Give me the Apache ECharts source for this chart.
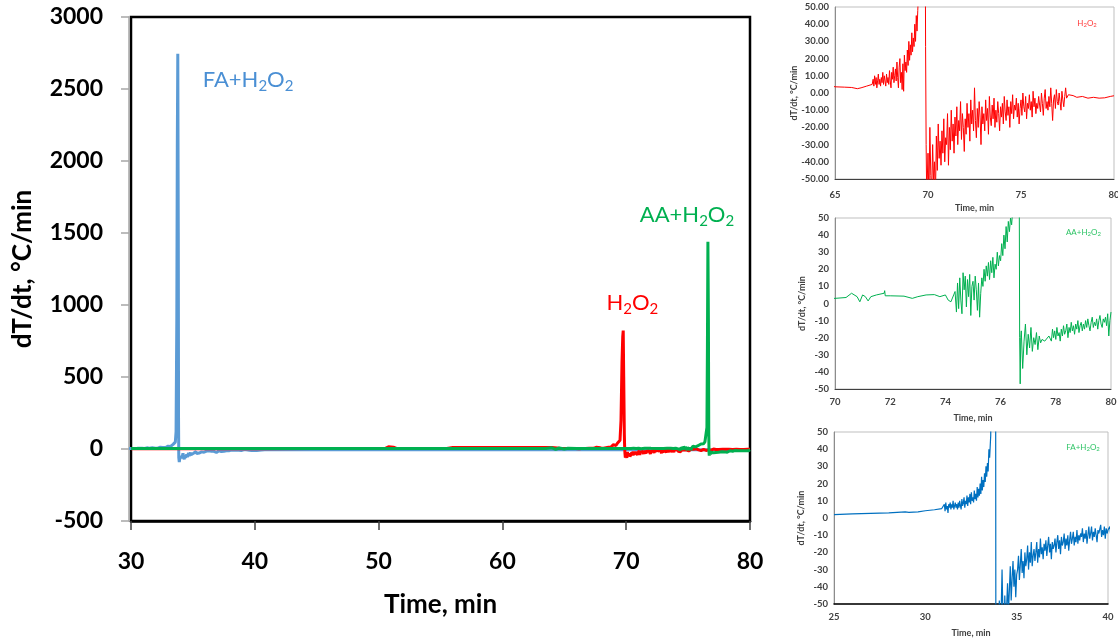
<!DOCTYPE html>
<html><head><meta charset="utf-8">
<script src="https://cdn.jsdelivr.net/npm/echarts@6/dist/echarts.min.js"></script>
<style>html,body{margin:0;padding:0;background:#fff}#c{width:1118px;height:642px}</style>
</head><body><div id="c"></div>
<script>
// ---------- FA + H2O2 (blue) ----------
const faT1 = [25, 26, 27, 28, 28.9, 29.1, 29.6, 30, 30.5, 30.9];
const faV1 = [2.0, 2.4, 2.7, 3.0, 3.6, 3.3, 3.6, 4.2, 4.8, 5.5];
const faRiseStart = 31.0, faRiseStep = 0.04;
const faRise = [6, 8, 4, 9, 5, 7, 3, 8, 6, 9,
  5, 8, 6, 10, 5, 7, 9, 6, 8, 5,
  9, 6, 10, 7, 5, 11, 7, 9, 12, 6,
  10, 8, 13, 7, 12, 9, 14, 8, 15, 10,
  12, 9, 16, 11, 14, 10, 18, 12, 17, 13,
  20, 14, 24, 16, 22, 18, 26, 21, 30, 24,
  32, 27, 40, 35];
const faPeakT = [33.58, 33.64, 33.70, 33.74, 33.78, 33.82, 33.84, 33.86];
const faPeakV = [48, 120, 900, 2100, 2745, 1500, 200, -60];
const faDecayStart = 33.90, faDecayStep = 0.05;
const faDecay = [-90, -62, -70, -48, -66, -55, -30, -58, -72, -45, -60, -52, -38, -55,
  -42, -28, -48, -35, -25, -40, -30, -46, -33,
  -30, -22, -36, -27, -18, -32, -25, -35, -20, -28,
  -24, -16, -30, -20, -26, -14, -28, -22, -18, -25,
  -20, -14, -26, -18, -23, -12, -21, -17, -24, -15,
  -19, -13, -22, -16, -11, -20, -15, -24, -14, -18,
  -16, -12, -20, -14, -10, -18, -13, -21, -11, -16,
  -14, -9, -18, -12, -16, -10, -19, -13, -8, -15,
  -12, -8, -16, -11, -14, -7, -15, -10, -13, -9,
  -11, -6, -14, -9, -12, -7, -15, -10, -5, -12,
  -9, -5, -13, -8, -11, -6, -10, -14, -7, -9,
  -8, -4, -11, -7, -10, -5, -12, -6, -9, -7,
  -8, -5, -10, -6, -9, -4, -8, -11, -6, -7,
  -7, -4, -9, -6, -8, -5, -10, -6, -7, -5,
  -6, -4, -8, -5, -7, -3, -6, -8, -5, -6];
const faTailT = [42, 50, 60, 70, 80];
const faTailV = [-5, -5, -6, -6, -6];

// ---------- H2O2 (red) ----------
const redT1 = [30, 40, 45, 50.5, 50.8, 51.2, 51.5, 55.5, 56, 60, 64, 64.6, 65, 65.5, 65.9, 66.2, 66.4, 66.7, 67.0];
const redV1 = [2, 2, 3, 3, 15, 12, 3, 4, 10, 11, 10, 5, 3.6, 3.4, 3.2, 2.5, 3.0, 4.0, 5.0];
const redRiseStart = 67.05, redRiseStep = 0.04;
const redRise = [8, 4, 10, 5, 9, 3, 7, 11, 5, 8,
  4, 9, 6, 12, 5, 10, 7, 4, 11, 6,
  9, 5, 13, 7, 3, 12, 8, 15, 6, 10,
  14, 7, 18, 9, 3, 15, 20, 6, 12, 2,
  17, 1, 22, 13, 18, 12, 25, 16, 30, 19,
  28, 22, 35, 24, 32, 27, 40, 30, 45, 36,
  48];
const redPeakT = [69.50, 69.58, 69.66, 69.72, 69.76, 69.80, 69.85, 69.87, 69.88, 69.90, 69.93];
const redPeakV = [60, 200, 600, 780, 822, 500, 100, 27, 26, -30, -60];
const redDecayStart = 69.95, redDecayStep = 0.05;
const redDecay = [-55, -35, -62, -20, -48, -58, -30, -52, -40, -60, -25,
  -45, -18, -38, -28, -42, -22, -35, -15, -40, -26,
  -30, -12, -42, -20, -33, -10, -28, -18, -35, -14,
  -25, -8, -30, -16, -22, -5, -27, -12, -20, -34,
  -15, -24, -6, -20, -12, -28, -4, -18, -10, -22,
  3, -16, -26, -9, -20, -5, -14, -30, -8, -18,
  -12, -22, -4, -16, -9, -24, -2, -14, -19, -7,
  -15, -3, -20, -10, -17, -5, -12, -22, -8, -14,
  -6, -18, -2, -11, -16, -4, -13, -8, -20, -5,
  -12, -1, -15, -7, -10, -3, -14, -6, -18, -9,
  -4, -13, 0, -8, -11, -2, -15, -6, -9, -1,
  -10, -5, -14, 1, -8, -3, -12, -6, -9, -2,
  -7, -11, 0, -6, -13, -3, 2, -9, -5, -10,
  -2, -8, 3, -6, -16, -4, -1, -9, 2, -5,
  -7, 0, -5, -10, 1, -4, -8, -2, 3, -3];
const redTailT = [77.55, 77.8, 78.0, 78.3, 78.6, 78.9, 79.2, 79.5, 79.8, 80];
const redTailV = [-1, -1.5, -2.5, -2, -3, -2.5, -3, -2.8, -2, -1.6];

// ---------- AA + H2O2 (green) ----------
const aaT1 = [30, 40, 50, 60, 63.5, 64, 64.3, 64.6, 65, 65.3, 66, 68, 70, 70.4, 70.6, 70.8, 70.9, 71.0, 71.1, 71.2,
  71.3, 71.5, 71.78, 71.8, 71.82, 72.0, 72.5, 72.8, 73.0, 73.3, 73.6, 73.8, 74.0, 74.1, 74.2, 74.3, 74.35];
const aaV1 = [3, 3, 3, 3, 3, 8, -2, 7, 0, 5, 3, 3, 3, 3.5, 6, 4, 1, 5, 4, 1.5,
  4, 5, 6, 7.5, 4.5, 4.5, 4.3, 3, 4, 5, 5.2, 4, 5, 2, 1, 5, 7];
const aaRiseStart = 74.40, aaRiseStep = 0.04;
const aaRise = [-5, 12, -3, 15, 2, -6, 18, 8, 16, -2,
  14, 4, 17, -7, 10, 13, 2, 16, 8, -4,
  12, -8, 6, 15, 10, 20, 13, 22, 16, 24,
  14, 25, 18, 27, 15, 23, 20, 30, 22, 28,
  25, 35, 28, 40, 32, 45, 36, 48, 42, 50,
  46, 55, 60];
const aaPeakT = [76.52, 76.56, 76.60, 76.64, 76.67, 76.69, 76.71, 76.73];
const aaPeakV = [150, 700, 1440, 900, 100, -20, -47, -20];
const aaDropStart = 76.75, aaDropStep = 0.05;
const aaDrop = [-16, -38, -22, -12, -30, -18, -26, -14, -28, -20, -24, -17, -27, -19, -23, -21];
const aaMidT = [77.6, 77.75];
const aaMidV = [-22, -19];
const aaEndStart = 77.80, aaEndStep = 0.04;
const aaEnd = [-18, -22, -15, -20, -16, -21, -14, -19, -17, -22,
  -15, -19, -13, -18, -16, -12, -20, -14, -17, -11,
  -16, -13, -18, -12, -15, -10, -17, -13, -11, -16,
  -12, -15, -10, -14, -9, -13, -16, -11, -8, -14,
  -11, -13, -9, -15, -10, -7, -12, -14, -9, -11,
  -8, -13, -6, -19, -10, -5];

// ---------- helpers ----------
function pairs(t, v) { return t.map((x, i) => [x, v[i]]); }
function sampled(start, step, v) { return v.map((y, i) => [Math.round((start + i * step) * 1000) / 1000, y]); }

const faData = [].concat(pairs(faT1, faV1), sampled(faRiseStart, faRiseStep, faRise),
  pairs(faPeakT, faPeakV), sampled(faDecayStart, faDecayStep, faDecay), pairs(faTailT, faTailV));
const redData = [].concat(pairs(redT1, redV1), sampled(redRiseStart, redRiseStep, redRise),
  pairs(redPeakT, redPeakV), sampled(redDecayStart, redDecayStep, redDecay), pairs(redTailT, redTailV));
const aaData = [].concat(pairs(aaT1, aaV1), sampled(aaRiseStart, aaRiseStep, aaRise),
  pairs(aaPeakT, aaPeakV), sampled(aaDropStart, aaDropStep, aaDrop), pairs(aaMidT, aaMidV),
  sampled(aaEndStart, aaEndStep, aaEnd));

const FONT = 'Lato, "Open Sans", sans-serif';
const mainLabel = { fontSize: 23, fontWeight: 'bold', color: '#000', fontFamily: FONT };
const mainTitle = { fontSize: 26, fontWeight: 'bold', color: '#000', fontFamily: FONT };

function insetX(idx, min, max, interval, margin) {
  return {
    type: 'value', gridIndex: idx, min, max, interval,
    name: 'Time, min', nameLocation: 'middle', nameGap: 25, nameMoveOverlap: false,
    nameTextStyle: { fontSize: 9, fontWeight: 'bold', color: '#404040', fontFamily: FONT },
    axisLine: { show: true, onZero: false, lineStyle: { color: idx === 3 ? '#000' : '#404040', width: idx === 3 ? 1.5 : 1 } },
    axisTick: { show: false },
    axisLabel: { fontSize: 9.5, fontWeight: 'bold', color: '#404040', margin, fontFamily: FONT },
    splitLine: { show: false }
  };
}
function insetY(idx, decimals, nameGap) {
  return {
    type: 'value', gridIndex: idx, min: -50, max: 50, interval: 10,
    name: 'dT/dt, °C/min', nameLocation: 'middle', nameGap, nameMoveOverlap: false,
    nameTextStyle: { fontSize: 9, fontWeight: 'bold', color: '#404040', fontFamily: FONT },
    axisLine: { show: true, lineStyle: { color: '#8c8c8c', width: 1 } },
    axisTick: { show: false },
    axisLabel: { fontSize: 9.5, fontWeight: 'bold', color: '#404040', margin: 6, fontFamily: FONT,
      formatter: v => decimals ? v.toFixed(2) : String(v) },
    splitLine: { show: false }
  };
}
function line(idx, data, color, width, z) {
  return { type: 'line', xAxisIndex: idx, yAxisIndex: idx, data, showSymbol: false, symbol: 'none',
    lineStyle: { color, width }, itemStyle: { color }, clip: true, z: z || 2, animation: false };
}

const W = 1118, H = 642;
function gridBox(l, t, r, b, extra) {
  return Object.assign({ left: l, top: t, right: W - r, bottom: H - b, containLabel: false, outerBoundsMode: 'none' }, extra);
}

const chart = echarts.init(document.getElementById('c'), null, { renderer: 'canvas' });
chart.setOption({
  animation: false,
  backgroundColor: '#fff',
  grid: [
    gridBox(131, 17, 750, 521, { show: true, borderColor: '#000', borderWidth: 2.5 }),
    gridBox(835, 7, 1114, 179, { show: true, borderColor: '#bfbfbf', borderWidth: 1 }),
    gridBox(835, 218, 1111, 389, { show: true, borderColor: '#bfbfbf', borderWidth: 1 }),
    gridBox(834, 432, 1108, 604, { show: true, borderColor: '#bfbfbf', borderWidth: 1 })
  ],
  xAxis: [
    { type: 'value', gridIndex: 0, min: 30, max: 80, interval: 10,
      name: 'Time, min', nameLocation: 'middle', nameGap: 71, nameMoveOverlap: false,
      nameTextStyle: mainTitle,
      axisLine: { show: true, onZero: false, lineStyle: { color: '#000', width: 2.5 } },
      axisTick: { show: true, length: 9, lineStyle: { color: '#404040', width: 1.5 } },
      axisLabel: Object.assign({ margin: 29 }, mainLabel),
      splitLine: { show: false } },
    insetX(1, 65, 80, 5, 11),
    insetX(2, 70, 80, 2, 8),
    insetX(3, 25, 40, 5, 8)
  ],
  yAxis: [
    { type: 'value', gridIndex: 0, min: -500, max: 3000, interval: 500, offset: 2,
      name: 'dT/dt, °C/min', nameLocation: 'middle', nameGap: 93, nameMoveOverlap: false,
      nameTextStyle: mainTitle,
      axisLine: { show: true, lineStyle: { color: '#a6a6a6', width: 1.5 } },
      axisTick: { show: true, length: 8, lineStyle: { color: '#a6a6a6', width: 1.5 } },
      axisLabel: Object.assign({ margin: 26, formatter: v => String(v) }, mainLabel),
      splitLine: { show: false } },
    insetY(1, true, 36),
    insetY(2, false, 28),
    insetY(3, false, 28)
  ],
  series: [
    line(0, faData, '#5b9bd5', 3, 2),
    line(0, redData, '#ff0000', 3, 3),
    line(0, aaData, '#00b050', 3, 4),
    line(1, redData, '#ff0000', 1),
    line(2, aaData, '#00b050', 1),
    line(3, faData, '#0070c0', 1.2)
  ]
});

// annotation anchors in data coordinates
const labels = [
  { grid: 0, at: [35.8, 2562], parts: ['FA+H', '2', 'O', '2'], color: '#4a8fd4', size: 22, sub: 15, drop: 13, align: 'left' },
  { grid: 0, at: [71.1, 1625], parts: ['AA+H', '2', 'O', '2'], color: '#00b050', size: 22, sub: 15, drop: 13, align: 'left' },
  { grid: 0, at: [68.4, 1014], parts: ['H', '2', 'O', '2'], color: '#ff0000', size: 22, sub: 15, drop: 13, align: 'left' },
  { grid: 1, at: [78.55, 40.7], parts: ['H', '2', 'O', '2'], color: '#ff3b3b', size: 8, sub: 6, drop: 4, align: 'center' },
  { grid: 2, at: [79.0, 41.8], parts: ['AA+H', '2', 'O', '2'], color: '#2ec466', size: 8, sub: 6, drop: 4, align: 'center' },
  { grid: 3, at: [38.63, 41.3], parts: ['FA+H', '2', 'O', '2'], color: '#2ec466', size: 8, sub: 6, drop: 4, align: 'center' }
];
const graphics = labels.map(l => {
  const p = chart.convertToPixel({ gridIndex: l.grid }, l.at);
  const txt = l.parts.map((s, i) => (i % 2 ? '{s|' + s + '}' : '{a|' + s + '}')).join('');
  return {
    type: 'text', x: p[0], y: p[1], z: 100,
    style: {
      text: txt, fill: l.color, align: l.align, verticalAlign: 'middle', fontFamily: FONT,
      rich: {
        a: { fontSize: l.size, lineHeight: l.size, fontFamily: FONT, fill: l.color },
        s: { fontSize: l.sub, lineHeight: l.sub, fontFamily: FONT, fill: l.color, padding: [l.drop, 0, 0, 0] }
      }
    }
  };
});
chart.setOption({ graphic: graphics });
</script></body></html>
